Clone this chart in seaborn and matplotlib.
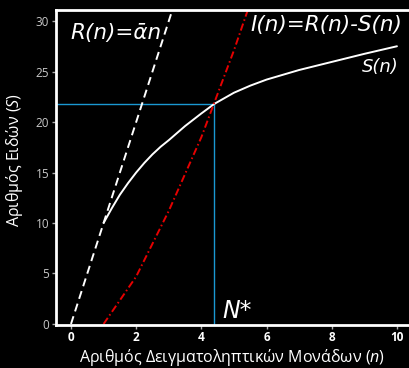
import numpy as np
import pandas as pd
import matplotlib
matplotlib.use("Agg")
import matplotlib.pyplot as plt
import seaborn as sns

# ---- data ----
n_R = [0, 1, 2, 3, 4]
R_vals = [0, 10, 20, 30, 40]
n_S = [1, 1.25, 1.5, 1.75, 2, 2.25, 2.5, 2.75, 3, 3.5, 4, 4.4, 5, 5.5, 6, 7, 8, 9, 10]
S_vals = [10.0, 11.45, 12.8, 13.95, 15.0, 15.95, 16.8, 17.55, 18.2, 19.6, 20.85, 21.8,
          22.9, 23.6, 24.2, 25.15, 25.95, 26.75, 27.5]
n_I = [1, 2, 3, 4, 5, 6]
I_vals = [0, 4.7, 11.2, 18.5, 27.1, 36.5]
N_star = 4.4
S_star = 21.8
x_ticks = [0, 2, 4, 6, 8, 10]
y_ticks = [0, 5, 10, 15, 20, 25, 30]

sns.set_theme(style="dark")
FONT = "Open Sans"
plt.rcParams["font.family"] = [FONT, "DejaVu Sans"]
plt.rcParams["mathtext.fontset"] = "custom"
plt.rcParams["mathtext.it"] = f"{FONT}:italic"
plt.rcParams["mathtext.rm"] = FONT

fig = plt.figure(figsize=(4.10, 3.68), dpi=100, facecolor="black")
ax = fig.add_axes([56 / 410, 43.5 / 368, 353 / 410, 315 / 368])
ax.set_facecolor("black")

xlim = (-0.46, 10.37)
ylim = (-0.05, 31.14)

df_R = pd.DataFrame({"n": n_R, "v": R_vals})
df_S = pd.DataFrame({"n": n_S, "v": S_vals})
df_I = pd.DataFrame({"n": n_I, "v": I_vals})

BLUE = "#1a98d2"
# blue guide lines
sns.lineplot(x=[xlim[0], N_star], y=[S_star, S_star], ax=ax, color=BLUE, lw=1.0,
             estimator=None, sort=False)
sns.lineplot(x=[N_star, N_star], y=[ylim[0], S_star], ax=ax, color=BLUE, lw=1.0,
             estimator=None, sort=False)

sns.lineplot(data=df_R, x="n", y="v", ax=ax, color="white", lw=1.4,
             linestyle=(0, (4.2, 2.6)))
sns.lineplot(data=df_S, x="n", y="v", ax=ax, color="white", lw=1.4)
sns.lineplot(data=df_I, x="n", y="v", ax=ax, color="#e60000", lw=1.4,
             linestyle=(0, (3.8, 1.5, 0.8, 1.5)))

ax.set_xlim(*xlim)
ax.set_ylim(*ylim)
ax.set_xticks(x_ticks)
ax.set_yticks(y_ticks)
ax.set_xticklabels([str(t) for t in x_ticks], color="white", fontweight="bold", fontsize=8.5)
ax.set_yticklabels([str(t) for t in y_ticks], color="#c8c8c8", fontsize=8.5)
ax.tick_params(axis="both", which="both", direction="out", length=3, width=1,
               color="#aaaaaa", pad=2, bottom=True, left=True)
ax.grid(False)

for side in ["left", "bottom", "top"]:
    ax.spines[side].set_visible(True)
    ax.spines[side].set_color("white")
    ax.spines[side].set_linewidth(2.0)
ax.spines["right"].set_visible(False)

ax.set_xlabel("Αριθμός Δειγματοληπτικών Μονάδων ($n$)", color="white", fontsize=11.5, labelpad=2)
ax.set_ylabel("Αριθμός Ειδών ($S$)", color="white", fontsize=11.5)
ax.yaxis.set_label_coords(-0.088, 0.522)

ANN = ["DejaVu Sans"]
ax.text(-0.03, 28.8, "R(n)=ᾱn", color="white", fontsize=15.5, style="italic",
        ha="left", va="center", family=ANN)
ax.text(10.15, 29.6, "I(n)=R(n)-S(n)", color="white", fontsize=15.5, style="italic",
        ha="right", va="center", family=ANN)
ax.text(10.06, 25.4, "S(n)", color="white", fontsize=13, style="italic",
        ha="right", va="center", family=ANN)
ax.text(4.63, 0.6, "N*", color="white", fontsize=17, style="italic",
        ha="left", va="baseline", family=ANN)

fig.savefig("out.png", dpi=100, facecolor="black")
